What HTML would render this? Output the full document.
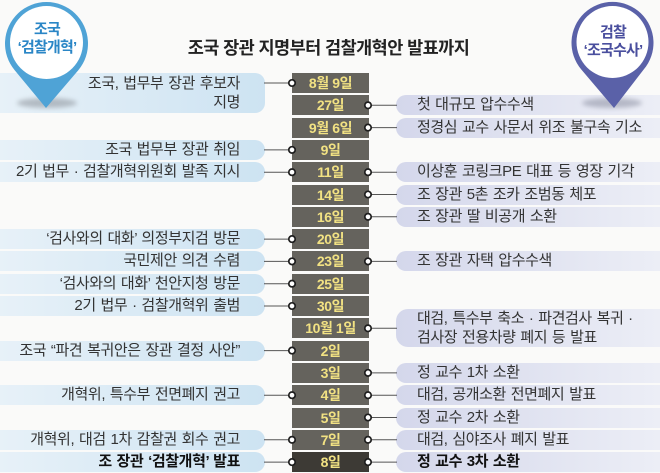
<!DOCTYPE html>
<html><head><meta charset="utf-8">
<style>
*{margin:0;padding:0;box-sizing:border-box}
html,body{width:660px;height:473px;overflow:hidden;background:#fafaf9}
body{position:relative;font-family:"Liberation Sans","Noto Sans CJK KR",sans-serif;color:#333}
.t{position:absolute;left:0;top:36px;width:657px;text-align:center;font-size:17.5px;font-weight:bold;letter-spacing:-0.55px;color:#222;line-height:24px}
.d{position:absolute;left:292px;width:77px;height:20px;background:#65635d;color:#f2e283;font-size:14px;font-weight:bold;text-align:center;line-height:20px;letter-spacing:-0.4px}
.L{position:absolute;left:0;width:265px;height:20px;border-radius:0 10px 10px 0;background:linear-gradient(to right,#e7f1f8,#cde3f2);text-align:right;padding-right:25px;font-size:15px;line-height:20px;letter-spacing:-0.4px;word-spacing:1px;white-space:nowrap}
.R{position:absolute;left:396px;width:264px;height:20px;border-radius:10px 0 0 10px;background:linear-gradient(to right,#d4d7eb,#eceef6);text-align:left;padding-left:21px;font-size:15px;line-height:20px;letter-spacing:-0.4px;word-spacing:1px;white-space:nowrap}
.b{font-weight:bold;color:#111}
svg{position:absolute;left:0;top:0}
.p{position:absolute;text-align:center;font-weight:bold;font-size:15px;letter-spacing:-0.8px;line-height:18px;white-space:nowrap}
</style></head><body>
<div class="t">조국 장관 지명부터 검찰개혁안 발표까지</div>

<!-- left boxes -->
<div class="L" style="top:73px;height:40px;line-height:19px;padding-top:1px">조국, 법무부 장관 후보자<br>지명</div>
<div class="L" style="top:139.9px">조국 법무부 장관 취임</div>
<div class="L" style="top:162.2px">2기 법무 · 검찰개혁위원회 발족 지시</div>
<div class="L" style="top:229.1px">‘검사와의 대화’ 의정부지검 방문</div>
<div class="L" style="top:251.4px">국민제안 의견 수렴</div>
<div class="L" style="top:273.7px">‘검사와의 대화’ 천안지청 방문</div>
<div class="L" style="top:296px">2기 법무 · 검찰개혁위 출범</div>
<div class="L" style="top:340.6px">조국 “파견 복귀안은 장관 결정 사안”</div>
<div class="L" style="top:385.2px">개혁위, 특수부 전면폐지 권고</div>
<div class="L" style="top:429.8px">개혁위, 대검 1차 감찰권 회수 권고</div>
<div class="L b" style="top:452.1px">조 장관 ‘검찰개혁’ 발표</div>

<!-- right boxes -->
<div class="R" style="top:95.3px">첫 대규모 압수수색</div>
<div class="R" style="top:117.6px">정경심 교수 사문서 위조 불구속 기소</div>
<div class="R" style="top:162.2px">이상훈 코링크PE 대표 등 영장 기각</div>
<div class="R" style="top:184.5px">조 장관 5촌 조카 조범동 체포</div>
<div class="R" style="top:206.8px">조 장관 딸 비공개 소환</div>
<div class="R" style="top:251.4px">조 장관 자택 압수수색</div>
<div class="R" style="top:308.5px;height:38px;line-height:19px;border-radius:12px 0 0 12px">대검, 특수부 축소 · 파견검사 복귀 ·<br>검사장 전용차량 폐지 등 발표</div>
<div class="R" style="top:362.9px">정 교수 1차 소환</div>
<div class="R" style="top:385.2px">대검, 공개소환 전면폐지 발표</div>
<div class="R" style="top:407.5px">정 교수 2차 소환</div>
<div class="R" style="top:429.8px">대검, 심야조사 폐지 발표</div>
<div class="R b" style="top:452.1px">정 교수 3차 소환</div>

<!-- dates -->
<div class="d" style="top:73px">8월 9일</div>
<div class="d" style="top:95.3px">27일</div>
<div class="d" style="top:117.6px">9월 6일</div>
<div class="d" style="top:139.9px">9일</div>
<div class="d" style="top:162.2px">11일</div>
<div class="d" style="top:184.5px">14일</div>
<div class="d" style="top:206.8px">16일</div>
<div class="d" style="top:229.1px">20일</div>
<div class="d" style="top:251.4px">23일</div>
<div class="d" style="top:273.7px">25일</div>
<div class="d" style="top:296px">30일</div>
<div class="d" style="top:318.3px">10월 1일</div>
<div class="d" style="top:340.6px">2일</div>
<div class="d" style="top:362.9px">3일</div>
<div class="d" style="top:385.2px">4일</div>
<div class="d" style="top:407.5px">5일</div>
<div class="d" style="top:429.8px">7일</div>
<div class="d" style="top:452.1px;background:#3d3a35">8일</div>

<svg width="660" height="473" viewBox="0 0 660 473">
<defs>
<filter id="bl" x="-50%" y="-100%" width="200%" height="300%"><feGaussianBlur stdDeviation="2.5"/></filter>
</defs>
<g stroke="#555" stroke-width="1">
<line x1="264" y1="83" x2="292" y2="83"/>
<line x1="264" y1="149.9" x2="292" y2="149.9"/>
<line x1="264" y1="172.2" x2="292" y2="172.2"/>
<line x1="264" y1="239.1" x2="292" y2="239.1"/>
<line x1="264" y1="261.4" x2="292" y2="261.4"/>
<line x1="264" y1="283.7" x2="292" y2="283.7"/>
<line x1="264" y1="306" x2="292" y2="306"/>
<line x1="264" y1="350.6" x2="292" y2="350.6"/>
<line x1="264" y1="395.2" x2="292" y2="395.2"/>
<line x1="264" y1="439.8" x2="292" y2="439.8"/>
<line x1="264" y1="462.1" x2="292" y2="462.1"/>
<line x1="368" y1="105.3" x2="397" y2="105.3"/>
<line x1="368" y1="127.6" x2="397" y2="127.6"/>
<line x1="368" y1="172.2" x2="397" y2="172.2"/>
<line x1="368" y1="194.5" x2="397" y2="194.5"/>
<line x1="368" y1="216.8" x2="397" y2="216.8"/>
<line x1="368" y1="261.4" x2="397" y2="261.4"/>
<line x1="368" y1="328.3" x2="397" y2="328.3"/>
<line x1="368" y1="372.9" x2="397" y2="372.9"/>
<line x1="368" y1="395.2" x2="397" y2="395.2"/>
<line x1="368" y1="417.5" x2="397" y2="417.5"/>
<line x1="368" y1="439.8" x2="397" y2="439.8"/>
<line x1="368" y1="462.1" x2="397" y2="462.1"/>
</g>
<g fill="#fff" stroke="#1e1e1e" stroke-width="1.7">
<circle cx="292" cy="83" r="3.2"/>
<circle cx="292" cy="149.9" r="3.2"/>
<circle cx="292" cy="172.2" r="3.2"/>
<circle cx="292" cy="239.1" r="3.2"/>
<circle cx="292" cy="261.4" r="3.2"/>
<circle cx="292" cy="283.7" r="3.2"/>
<circle cx="292" cy="306" r="3.2"/>
<circle cx="292" cy="350.6" r="3.2"/>
<circle cx="292" cy="395.2" r="3.2"/>
<circle cx="292" cy="439.8" r="3.2"/>
<circle cx="292" cy="462.1" r="3.2"/>
<circle cx="368" cy="105.3" r="3.2"/>
<circle cx="368" cy="127.6" r="3.2"/>
<circle cx="368" cy="172.2" r="3.2"/>
<circle cx="368" cy="194.5" r="3.2"/>
<circle cx="368" cy="216.8" r="3.2"/>
<circle cx="368" cy="261.4" r="3.2"/>
<circle cx="368" cy="328.3" r="3.2"/>
<circle cx="368" cy="372.9" r="3.2"/>
<circle cx="368" cy="395.2" r="3.2"/>
<circle cx="368" cy="417.5" r="3.2"/>
<circle cx="368" cy="439.8" r="3.2"/>
<circle cx="368" cy="462.1" r="3.2"/>
</g>
<ellipse cx="47" cy="103" rx="30" ry="5" fill="#8a9098" opacity="0.55" filter="url(#bl)"/>
<path d="M46 108 L14.7 70.2 A41.5 41.5 0 1 1 78.3 70.2 Z" fill="#4fa3d6"/>
<circle cx="46.5" cy="42.5" r="36.5" fill="#fff"/>
<ellipse cx="612" cy="103" rx="30" ry="5" fill="#8a8ea0" opacity="0.55" filter="url(#bl)"/>
<path d="M614 108 L581.3 69.5 A41 41 0 1 1 643.7 69.5 Z" fill="#5a61a8"/>
<circle cx="612.5" cy="42" r="36" fill="#fff"/>
</svg>

<div class="p" style="left:6px;top:21px;width:82px;color:#2a86c6">조국<br>‘검찰개혁’</div>
<div class="p" style="left:572px;top:24px;width:82px;color:#4a4f9e">검찰<br>‘조국수사’</div>
</body></html>
